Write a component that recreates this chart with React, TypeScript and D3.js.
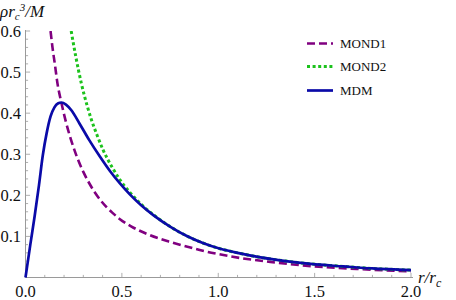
import { useMemo } from 'react'
import * as d3 from 'd3'

// values
const mond1R = [0.13, 0.14, 0.153, 0.165, 0.185, 0.21, 0.235, 0.26, 0.3, 0.33, 0.36, 0.4, 0.45, 0.49, 0.55, 0.64, 0.74, 0.84, 0.92, 1.0, 1.12, 1.27, 1.5, 1.75, 2.0]
const mond1V = [0.6, 0.56, 0.517, 0.475, 0.428, 0.378, 0.337, 0.302, 0.257, 0.23, 0.207, 0.182, 0.158, 0.142, 0.124, 0.104, 0.088, 0.075, 0.065, 0.057, 0.047, 0.038, 0.027, 0.02, 0.015]

const mond2R = [0.237, 0.26, 0.29, 0.32, 0.342, 0.37, 0.403, 0.45, 0.49, 0.54, 0.6, 0.663, 0.75, 0.837, 0.92, 1.01, 1.1, 1.22, 1.35, 1.48, 1.65, 1.8, 2.0]
const mond2V = [0.6, 0.54, 0.472, 0.418, 0.384, 0.348, 0.31, 0.268, 0.238, 0.208, 0.178, 0.153, 0.124, 0.101, 0.084, 0.07, 0.06, 0.049, 0.04, 0.033, 0.027, 0.022, 0.018]

const mdmR = [0, 0.025, 0.047, 0.07, 0.09, 0.11, 0.13, 0.15, 0.17, 0.186, 0.21, 0.238, 0.28, 0.33, 0.385, 0.44, 0.49, 0.54, 0.6, 0.663, 0.75, 0.837, 0.92, 1.01, 1.1, 1.22, 1.35, 1.48, 1.65, 1.8, 2.0]
const mdmV = [0, 0.08, 0.148, 0.225, 0.298, 0.352, 0.392, 0.414, 0.424, 0.426, 0.421, 0.407, 0.375, 0.335, 0.295, 0.258, 0.229, 0.203, 0.176, 0.152, 0.124, 0.101, 0.084, 0.07, 0.06, 0.049, 0.04, 0.033, 0.027, 0.022, 0.018]

const xMajor = [0, 0.5, 1.0, 1.5, 2.0]
const yMajor = [0.1, 0.2, 0.3, 0.4, 0.5, 0.6]

const series = [
  { label: 'MOND1', r: mond1R, v: mond1V, color: '#800080', dash: '8,4', w: 2.6 },
  { label: 'MOND2', r: mond2R, v: mond2V, color: '#1cc21c', dash: '3,2.6', w: 3 },
  { label: 'MDM', r: mdmR, v: mdmV, color: '#0a0aa8', dash: null, w: 2.7 },
]

const font = 'Times, "Liberation Serif", "Times New Roman", "DejaVu Serif", serif'

export default function App() {
  const width = 456, height = 300
  const x = d3.scaleLinear().domain([0, 2]).range([25.5, 411])
  const y = d3.scaleLinear().domain([0, 0.6]).range([277.5, 31])
  const axisColor = '#9a9a9a'

  const line = d3.line<[number, number]>()
    .x(d => x(d[0]))
    .y(d => y(d[1]))
    .curve(d3.curveMonotoneX)

  const xMinor = d3.range(0, 21).map(i => i / 10).filter(t => !xMajor.some(m => Math.abs(m - t) < 1e-6))
  const yMinor = d3.range(1, 31).map(i => i / 50).filter(t => !yMajor.some(m => Math.abs(m - t) < 1e-6))

  const paths = useMemo(() => series.map(s => line(s.r.map((r, i) => [r, s.v[i]] as [number, number]))), [])

  const txt = { fontFamily: font, fill: '#111' }

  return (
    <svg width={width} height={height} style={{ position: 'absolute', left: 0, top: 0, background: '#fff' }}>
      <defs>
        <clipPath id="plot">
          <rect x={x(0) - 3} y={y(0.6)} width={x(2) - x(0) + 6} height={y(0) - y(0.6) + 3} />
        </clipPath>
      </defs>

      {/* x axis */}
      <line x1={x(0)} x2={x(2) + 2} y1={y(0)} y2={y(0)} stroke={axisColor} strokeWidth={1} />
      {xMinor.map(t => (
        <line key={'xm' + t} x1={x(t)} x2={x(t)} y1={y(0)} y2={y(0) - 2.6} stroke={axisColor} strokeWidth={0.8} />
      ))}
      {xMajor.map(t => (
        <g key={'xM' + t}>
          <line x1={x(t)} x2={x(t)} y1={y(0)} y2={y(0) - 4.6} stroke={axisColor} strokeWidth={0.8} />
          <text x={x(t)} y={296.5} textAnchor="middle" style={{ ...txt, fontSize: 16.5 }}>{t.toFixed(1)}</text>
        </g>
      ))}

      {/* y axis */}
      <line x1={x(0)} x2={x(0)} y1={y(0)} y2={y(0.6) - 1} stroke={axisColor} strokeWidth={1} />
      {yMinor.map(t => (
        <line key={'ym' + t} x1={x(0)} x2={x(0) + 2.6} y1={y(t)} y2={y(t)} stroke={axisColor} strokeWidth={0.8} />
      ))}
      {yMajor.map(t => (
        <g key={'yM' + t}>
          <line x1={x(0)} x2={x(0) + 4.6} y1={y(t)} y2={y(t)} stroke={axisColor} strokeWidth={0.8} />
          <text x={21} y={y(t)} dy="0.36em" textAnchor="end" style={{ ...txt, fontSize: 16.5 }}>{t.toFixed(1)}</text>
        </g>
      ))}

      {/* curves, MDM drawn last */}
      <g clipPath="url(#plot)">
        {series.map((s, i) => (
          <path key={s.label} d={paths[i] || ''} fill="none" stroke={s.color} strokeWidth={s.w}
            strokeDasharray={s.dash || undefined} />
        ))}
      </g>

      {/* axis labels */}
      <text x={0} y={17} style={{ ...txt, fontSize: 17, fontStyle: 'italic' }}>
        ρr<tspan style={{ fontSize: 11 }} dy={2.5}>c</tspan><tspan style={{ fontSize: 11 }} dy={-9}>3</tspan><tspan dy={6.5}>/M</tspan>
      </text>
      <text x={418} y={283} style={{ ...txt, fontSize: 17, fontStyle: 'italic' }}>
        r/r<tspan style={{ fontSize: 12 }} dy={3.5}>c</tspan>
      </text>

      {/* legend */}
      {series.map((s, i) => {
        const ly = [43.5, 66.5, 90.5][i]
        return (
          <g key={'lg' + s.label}>
            <line x1={307} x2={333} y1={ly} y2={ly} stroke={s.color} strokeWidth={s.w} strokeDasharray={s.dash || undefined} />
            <text x={340} y={ly} dy="0.35em" style={{ ...txt, fontSize: 13 }}>{s.label}</text>
          </g>
        )
      })}
    </svg>
  )
}
